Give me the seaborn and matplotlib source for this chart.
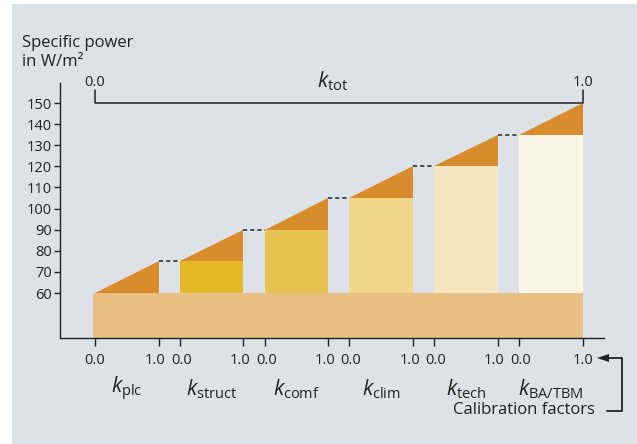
import numpy as np
import seaborn as sns
import matplotlib.pyplot as plt
from matplotlib.patches import Rectangle, Polygon
from matplotlib.transforms import blended_transform_factory, ScaledTranslation

# data
factor_labels = [r"$k_\mathrm{plc}$", r"$k_\mathrm{struct}$", r"$k_\mathrm{comf}$",
                 r"$k_\mathrm{clim}$", r"$k_\mathrm{tech}$", r"$k_\mathrm{BA/TBM}$"]
base_level = 60
start_levels = [60, 75, 90, 105, 120, 135]
end_levels = [75, 90, 105, 120, 135, 150]
y_ticks = [60, 70, 80, 90, 100, 110, 120, 130, 140, 150]

# colours
bg = "#DDE1E8"
orange = "#D98C2B"
base_color = "#E8C084"
rect_colors = [None, "#E5B82A", "#E8C24F", "#F0D68B", "#F5E7C2", "#FBF5E6"]

sns.set_theme(style="ticks")
plt.rcParams["font.family"] = ["Open Sans", "DejaVu Sans"]
plt.rcParams["mathtext.fontset"] = "custom"
plt.rcParams["mathtext.rm"] = "Open Sans"
plt.rcParams["mathtext.it"] = "Open Sans:italic"

W, H = 637, 444
fig = plt.figure(figsize=(W / 100, H / 100), dpi=100, facecolor="white")
fig.patches.append(Rectangle((12 / W, 0), 1 - 12 / W, 1 - 4 / H,
                             transform=fig.transFigure, facecolor=bg,
                             edgecolor="none", zorder=-10))

ax = fig.add_axes([60 / W, 1 - 338 / H, (604 - 60) / W, (338 - 83) / H])
ax.set_facecolor("none")

gap = 1 / 3
n = len(start_levels)
x0s = [i * (1 + gap) for i in range(n)]
x_end = x0s[-1] + 1

ax.set_xlim(-0.55, 8.0)
ax.set_ylim(38.7, 159.5)

# base block
ax.add_patch(Rectangle((-0.03, 38.7), x_end + 0.03, base_level - 38.7,
                       facecolor=base_color, edgecolor="none", zorder=1))

for i in range(n):
    x0 = x0s[i]
    if rect_colors[i] is not None:
        ax.bar(x0, start_levels[i] - base_level, bottom=base_level, width=1,
               align="edge", color=rect_colors[i], edgecolor="none", zorder=1)
    ax.add_patch(Polygon([(x0, start_levels[i]), (x0 + 1, start_levels[i]),
                          (x0 + 1, end_levels[i])], closed=True,
                         facecolor=orange, edgecolor="none", zorder=1))
    if i < n - 1:
        ax.plot([x0 + 1, x0s[i + 1]], [end_levels[i]] * 2, color="#333333",
                lw=1.2, ls=(0, (2.5, 1.8)), zorder=2)

# ticks
xt = []
xl = []
for x0 in x0s:
    xt += [x0, x0 + 1]
    xl += ["0.0", "1.0"]
ax.set_xticks(xt)
ax.set_xticklabels(xl, fontsize=10.5, color="#222222")
ax.set_yticks(y_ticks)
ax.set_yticklabels([str(v) for v in y_ticks], fontsize=10.5, color="#222222")
ax.tick_params(axis="x", length=6, width=1, pad=5, color="#222222")
ax.tick_params(axis="y", length=4, width=1, pad=2, color="#222222")
for s in ["top", "right"]:
    ax.spines[s].set_visible(False)
for s in ["left", "bottom"]:
    ax.spines[s].set_linewidth(1)
    ax.spines[s].set_color("#222222")

# nudge the touching 1.0 / 0.0 labels apart
for j, lbl in enumerate(ax.get_xticklabels()):
    if j == len(xt) - 1:
        continue
    dx = -3.5 / 100 if j % 2 == 1 else 1.5 / 100
    if j == 0:
        dx = 0
    lbl.set_transform(lbl.get_transform() + ScaledTranslation(dx, 0, fig.dpi_scale_trans))

# factor labels
trans = blended_transform_factory(ax.transData, fig.transFigure)
for x0, lab in zip(x0s, factor_labels):
    ax.text(x0 + 0.5, 1 - 389 / H, lab, transform=trans, ha="center",
            va="center", fontsize=15, color="#222222")

# k_tot bracket
ax.plot([0, 0, x_end, x_end], [156, 150, 150, 156], color="#222222",
        lw=1.1, clip_on=False, zorder=3)
ax.text(0, 1 - 82 / H, "0.0", transform=trans, ha="center", va="center",
        fontsize=10.5, color="#222222")
ax.text(x_end, 1 - 82 / H, "1.0", transform=trans, ha="center", va="center",
        fontsize=10.5, color="#222222")
ax.text(x_end / 2 - 0.1, 1 - 81 / H, r"$k_\mathrm{tot}$", transform=trans,
        ha="center", va="center", fontsize=15, color="#222222")

# axis title
fig.text(22 / W, 1 - 47 / H, "Specific power", fontsize=12, color="#222222",
         va="baseline", ha="left")
fig.text(22 / W, 1 - 66 / H, "in W/m\u00b2", fontsize=12, color="#222222",
         va="baseline", ha="left")

# calibration factors bracket
fig.text(595 / W, 1 - 410 / H, "Calibration factors", fontsize=12,
         color="#222222", ha="right", va="center")
fig.add_artist(plt.Line2D([607 / W, 622 / W, 622 / W, 603 / W],
                          [1 - 411 / H, 1 - 411 / H, 1 - 358 / H, 1 - 358 / H],
                          transform=fig.transFigure, color="#222222", lw=1.3))
fig.add_artist(Polygon([(597 / W, 1 - 358 / H), (609 / W, 1 - 354 / H),
                        (609 / W, 1 - 362 / H)], closed=True,
                       transform=fig.transFigure, facecolor="#222222",
                       edgecolor="none"))

fig.savefig("out.png", dpi=100, facecolor="white")
